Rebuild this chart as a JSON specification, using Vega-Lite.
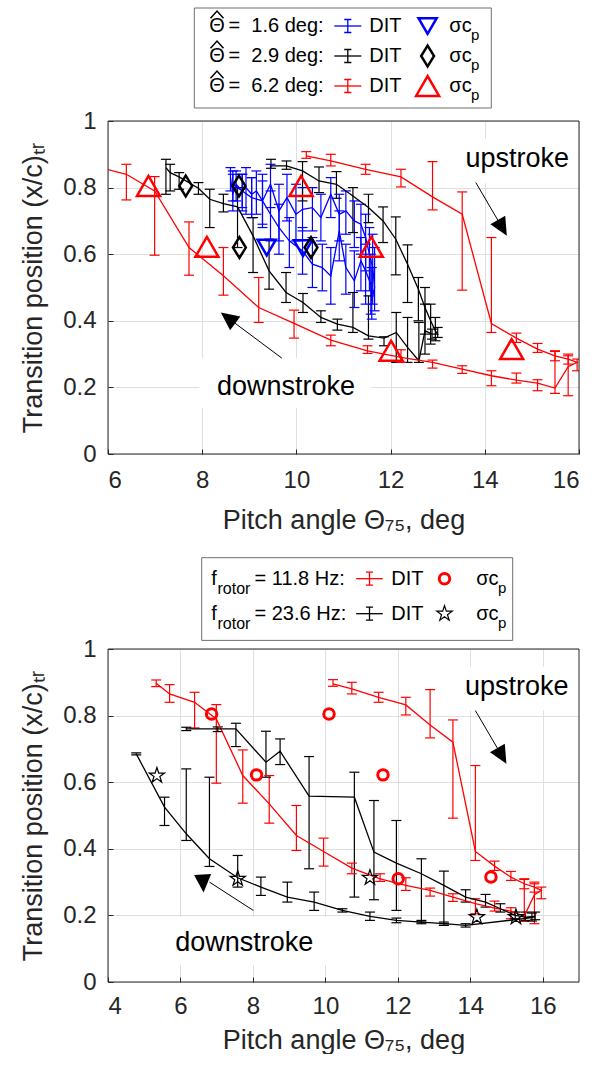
{
 "$schema": "https://vega.github.io/schema/vega-lite/v6.json",
 "padding": {"left": 19, "top": 7, "right": 5, "bottom": 0},
 "bounds": "flush",
 "spacing": 0,
 "resolve": {"scale": {"shape": "independent", "size": "independent", "strokeWidth": "independent"}},
 "config": {
  "font": "Liberation Sans",
  "view": {"stroke": "transparent"},
  "axis": {"grid": true, "gridColor": "#dfdfdf", "gridWidth": 1, "domain": false, "ticks": true, "tickColor": "#262626", "tickSize": -5, "labelFont": "Liberation Sans", "labelFontSize": 24, "labelColor": "#262626", "titleFont": "Liberation Sans", "titleFontSize": 27, "titleFontWeight": "normal", "titleColor": "#262626"},
  "axisX": {"labelPadding": 19, "titlePadding": 15},
  "axisY": {"labelPadding": 17, "titlePadding": 15}
 },
 "datasets": {
  "dit": [
   {"s":"b","o":1,"x":8.60,"y":0.83,"lo":0.79,"hi":0.86},
   {"s":"b","o":2,"x":8.65,"y":0.78,"lo":0.73,"hi":0.84},
   {"s":"b","o":3,"x":8.72,"y":0.81,"lo":0.76,"hi":0.85},
   {"s":"b","o":4,"x":8.85,"y":0.79,"lo":0.74,"hi":0.84},
   {"s":"b","o":5,"x":8.93,"y":0.80,"lo":0.72,"hi":0.86},
   {"s":"b","o":6,"x":9.05,"y":0.78,"lo":0.71,"hi":0.83},
   {"s":"b","o":7,"x":9.15,"y":0.79,"lo":0.72,"hi":0.85},
   {"s":"b","o":8,"x":9.28,"y":0.76,"lo":0.68,"hi":0.84},
   {"s":"b","o":9,"x":9.45,"y":0.81,"lo":0.74,"hi":0.87},
   {"s":"b","o":10,"x":9.63,"y":0.73,"lo":0.64,"hi":0.81},
   {"s":"b","o":11,"x":9.80,"y":0.77,"lo":0.70,"hi":0.84},
   {"s":"b","o":12,"x":9.99,"y":0.72,"lo":0.64,"hi":0.81},
   {"s":"b","o":13,"x":10.13,"y":0.735,"lo":0.67,"hi":0.80},
   {"s":"b","o":14,"x":10.34,"y":0.74,"lo":0.67,"hi":0.80},
   {"s":"b","o":15,"x":10.52,"y":0.71,"lo":0.64,"hi":0.78},
   {"s":"b","o":16,"x":10.73,"y":0.78,"lo":0.71,"hi":0.83},
   {"s":"b","o":17,"x":10.91,"y":0.72,"lo":0.64,"hi":0.78},
   {"s":"b","o":18,"x":11.05,"y":0.73,"lo":0.66,"hi":0.79},
   {"s":"b","o":19,"x":11.23,"y":0.70,"lo":0.62,"hi":0.76},
   {"s":"b","o":20,"x":11.37,"y":0.69,"lo":0.60,"hi":0.75},
   {"s":"b","o":21,"x":11.47,"y":0.65,"lo":0.55,"hi":0.72},
   {"s":"b","o":22,"x":11.55,"y":0.60,"lo":0.49,"hi":0.68},
   {"s":"b","o":23,"x":11.62,"y":0.56,"lo":0.45,"hi":0.66},
   {"s":"b","o":24,"x":11.66,"y":0.50,"lo":0.43,"hi":0.62},
   {"s":"b","o":25,"x":11.60,"y":0.46,"lo":0.405,"hi":0.56},
   {"s":"b","o":26,"x":11.58,"y":0.51,"lo":0.42,"hi":0.60},
   {"s":"b","o":27,"x":11.47,"y":0.55,"lo":0.45,"hi":0.63},
   {"s":"b","o":28,"x":11.37,"y":0.58,"lo":0.49,"hi":0.65},
   {"s":"b","o":29,"x":11.23,"y":0.52,"lo":0.44,"hi":0.61},
   {"s":"b","o":30,"x":11.05,"y":0.56,"lo":0.48,"hi":0.63},
   {"s":"b","o":31,"x":10.91,"y":0.67,"lo":0.58,"hi":0.73},
   {"s":"b","o":32,"x":10.73,"y":0.535,"lo":0.45,"hi":0.62},
   {"s":"b","o":33,"x":10.55,"y":0.56,"lo":0.49,"hi":0.63},
   {"s":"b","o":34,"x":10.34,"y":0.57,"lo":0.50,"hi":0.65},
   {"s":"b","o":35,"x":10.13,"y":0.61,"lo":0.54,"hi":0.68},
   {"s":"b","o":36,"x":9.85,"y":0.64,"lo":0.56,"hi":0.71},
   {"s":"b","o":37,"x":9.63,"y":0.68,"lo":0.60,"hi":0.75},
   {"s":"b","o":38,"x":9.45,"y":0.72,"lo":0.64,"hi":0.79},
   {"s":"b","o":39,"x":9.28,"y":0.76,"lo":0.69,"hi":0.82},
   {"s":"b","o":40,"x":9.05,"y":0.77,"lo":0.71,"hi":0.83},
   {"s":"b","o":41,"x":8.85,"y":0.79,"lo":0.73,"hi":0.84},
   {"s":"b","o":42,"x":8.65,"y":0.81,"lo":0.76,"hi":0.85},
   {"s":"k1","o":1,"x":9.46,"y":0.865,"lo":0.858,"hi":0.885},
   {"s":"k1","o":2,"x":9.79,"y":0.865,"lo":0.855,"hi":0.88},
   {"s":"k1","o":3,"x":10.13,"y":0.85,"lo":0.76,"hi":0.878},
   {"s":"k1","o":4,"x":10.48,"y":0.82,"lo":0.785,"hi":0.862},
   {"s":"k1","o":5,"x":10.85,"y":0.81,"lo":0.768,"hi":0.848},
   {"s":"k1","o":6,"x":11.2,"y":0.775,"lo":0.665,"hi":0.80},
   {"s":"k1","o":7,"x":11.53,"y":0.74,"lo":0.695,"hi":0.78},
   {"s":"k1","o":8,"x":11.84,"y":0.70,"lo":0.635,"hi":0.742},
   {"s":"k1","o":9,"x":12.11,"y":0.645,"lo":0.538,"hi":0.712},
   {"s":"k1","o":10,"x":12.36,"y":0.57,"lo":0.455,"hi":0.628},
   {"s":"k1","o":11,"x":12.59,"y":0.495,"lo":0.40,"hi":0.53},
   {"s":"k1","o":12,"x":12.73,"y":0.44,"lo":0.36,"hi":0.50},
   {"s":"k1","o":13,"x":12.85,"y":0.40,"lo":0.33,"hi":0.45},
   {"s":"k1","o":14,"x":12.95,"y":0.37,"lo":0.34,"hi":0.41},
   {"s":"k1","o":15,"x":13.0,"y":0.36,"lo":0.35,"hi":0.38},
   {"s":"k1","o":16,"x":12.88,"y":0.36,"lo":0.345,"hi":0.375},
   {"s":"k1","o":17,"x":12.73,"y":0.37,"lo":0.30,"hi":0.45},
   {"s":"k1","o":18,"x":12.6,"y":0.28,"lo":0.275,"hi":0.395},
   {"s":"k1","o":19,"x":12.36,"y":0.32,"lo":0.275,"hi":0.41},
   {"s":"k1","o":20,"x":12.12,"y":0.365,"lo":0.275,"hi":0.425},
   {"s":"k1","o":21,"x":11.86,"y":0.348,"lo":0.325,"hi":0.352},
   {"s":"k1","o":22,"x":11.53,"y":0.355,"lo":0.345,"hi":0.475},
   {"s":"k1","o":23,"x":11.2,"y":0.38,"lo":0.365,"hi":0.485},
   {"s":"k1","o":24,"x":10.87,"y":0.39,"lo":0.372,"hi":0.405},
   {"s":"k1","o":25,"x":10.52,"y":0.41,"lo":0.395,"hi":0.43},
   {"s":"k1","o":26,"x":10.14,"y":0.455,"lo":0.425,"hi":0.482},
   {"s":"k1","o":27,"x":9.78,"y":0.485,"lo":0.455,"hi":0.545},
   {"s":"k1","o":28,"x":9.42,"y":0.55,"lo":0.495,"hi":0.645},
   {"s":"k1","o":29,"x":9.08,"y":0.655,"lo":0.545,"hi":0.71},
   {"s":"k1","o":30,"x":8.75,"y":0.742,"lo":0.62,"hi":0.80},
   {"s":"k1","o":31,"x":8.45,"y":0.752,"lo":0.727,"hi":0.78},
   {"s":"k1","o":32,"x":8.16,"y":0.765,"lo":0.68,"hi":0.795},
   {"s":"k1","o":33,"x":7.92,"y":0.798,"lo":0.78,"hi":0.815},
   {"s":"k1","o":34,"x":7.51,"y":0.832,"lo":0.795,"hi":0.845},
   {"s":"k1","o":35,"x":7.32,"y":0.845,"lo":0.79,"hi":0.87},
   {"s":"k1","o":36,"x":7.23,"y":0.86,"lo":0.78,"hi":0.885},
   {"s":"r","o":1,"x":10.21,"y":0.895,"lo":0.888,"hi":0.908},
   {"s":"r","o":2,"x":10.73,"y":0.88,"lo":0.865,"hi":0.90},
   {"s":"r","o":3,"x":11.47,"y":0.855,"lo":0.84,"hi":0.87},
   {"s":"r","o":4,"x":12.22,"y":0.832,"lo":0.802,"hi":0.855},
   {"s":"r","o":5,"x":12.89,"y":0.772,"lo":0.733,"hi":0.878},
   {"s":"r","o":6,"x":13.52,"y":0.72,"lo":0.492,"hi":0.787},
   {"s":"r","o":7,"x":14.14,"y":0.392,"lo":0.365,"hi":0.65},
   {"s":"r","o":8,"x":14.67,"y":0.348,"lo":0.335,"hi":0.363},
   {"s":"r","o":9,"x":15.12,"y":0.315,"lo":0.305,"hi":0.332},
   {"s":"r","o":10,"x":15.49,"y":0.295,"lo":0.28,"hi":0.31},
   {"s":"r","o":11,"x":15.77,"y":0.285,"lo":0.27,"hi":0.30},
   {"s":"r","o":12,"x":15.96,"y":0.275,"lo":0.25,"hi":0.285},
   {"s":"r","o":13,"x":15.77,"y":0.262,"lo":0.175,"hi":0.295},
   {"s":"r","o":14,"x":15.49,"y":0.198,"lo":0.182,"hi":0.308},
   {"s":"r","o":15,"x":15.12,"y":0.213,"lo":0.19,"hi":0.223},
   {"s":"r","o":16,"x":14.67,"y":0.222,"lo":0.213,"hi":0.243},
   {"s":"r","o":17,"x":14.14,"y":0.235,"lo":0.205,"hi":0.25},
   {"s":"r","o":18,"x":13.52,"y":0.255,"lo":0.242,"hi":0.265},
   {"s":"r","o":19,"x":12.89,"y":0.275,"lo":0.258,"hi":0.282},
   {"s":"r","o":20,"x":12.22,"y":0.29,"lo":0.275,"hi":0.313},
   {"s":"r","o":21,"x":11.51,"y":0.31,"lo":0.302,"hi":0.325},
   {"s":"r","o":22,"x":10.73,"y":0.342,"lo":0.325,"hi":0.357},
   {"s":"r","o":23,"x":9.95,"y":0.392,"lo":0.348,"hi":0.432},
   {"s":"r","o":24,"x":9.2,"y":0.44,"lo":0.395,"hi":0.53},
   {"s":"r","o":25,"x":8.45,"y":0.535,"lo":0.477,"hi":0.62},
   {"s":"r","o":26,"x":7.72,"y":0.62,"lo":0.537,"hi":0.697},
   {"s":"r","o":27,"x":6.99,"y":0.79,"lo":0.597,"hi":0.833},
   {"s":"r","o":28,"x":6.39,"y":0.84,"lo":0.763,"hi":0.87},
   {"s":"r","o":29,"x":5.70,"y":0.865,"lo":0.84,"hi":0.893},
   {"s":"r","o":30,"x":5.33,"y":0.897,"lo":0.887,"hi":0.907},
   {"s":"k2","o":1,"x":6.16,"y":0.76,"lo":0.755,"hi":0.765},
   {"s":"k2","o":2,"x":7.03,"y":0.76,"lo":0.752,"hi":0.766},
   {"s":"k2","o":3,"x":7.53,"y":0.76,"lo":0.707,"hi":0.777},
   {"s":"k2","o":4,"x":8.36,"y":0.66,"lo":0.615,"hi":0.753},
   {"s":"k2","o":5,"x":8.75,"y":0.693,"lo":0.653,"hi":0.73},
   {"s":"k2","o":6,"x":9.55,"y":0.558,"lo":0.34,"hi":0.677},
   {"s":"k2","o":7,"x":10.8,"y":0.555,"lo":0.255,"hi":0.63},
   {"s":"k2","o":8,"x":11.34,"y":0.39,"lo":0.247,"hi":0.545},
   {"s":"k2","o":9,"x":11.96,"y":0.357,"lo":0.215,"hi":0.485},
   {"s":"k2","o":10,"x":12.65,"y":0.325,"lo":0.18,"hi":0.37},
   {"s":"k2","o":11,"x":13.27,"y":0.29,"lo":0.175,"hi":0.333},
   {"s":"k2","o":12,"x":13.87,"y":0.255,"lo":0.24,"hi":0.277},
   {"s":"k2","o":13,"x":14.42,"y":0.24,"lo":0.225,"hi":0.263},
   {"s":"k2","o":14,"x":14.83,"y":0.22,"lo":0.21,"hi":0.235},
   {"s":"k2","o":15,"x":15.24,"y":0.2,"lo":0.19,"hi":0.21},
   {"s":"k2","o":16,"x":15.52,"y":0.195,"lo":0.185,"hi":0.21},
   {"s":"k2","o":17,"x":15.79,"y":0.197,"lo":0.187,"hi":0.21},
   {"s":"k2","o":18,"x":15.7,"y":0.193,"lo":0.183,"hi":0.207},
   {"s":"k2","o":19,"x":13.87,"y":0.17,"lo":0.165,"hi":0.175},
   {"s":"k2","o":20,"x":13.27,"y":0.175,"lo":0.17,"hi":0.18},
   {"s":"k2","o":21,"x":12.65,"y":0.18,"lo":0.175,"hi":0.185},
   {"s":"k2","o":22,"x":11.96,"y":0.185,"lo":0.178,"hi":0.192},
   {"s":"k2","o":23,"x":11.23,"y":0.197,"lo":0.185,"hi":0.21},
   {"s":"k2","o":24,"x":10.47,"y":0.215,"lo":0.21,"hi":0.22},
   {"s":"k2","o":25,"x":9.69,"y":0.24,"lo":0.215,"hi":0.27},
   {"s":"k2","o":26,"x":8.95,"y":0.255,"lo":0.24,"hi":0.3},
   {"s":"k2","o":27,"x":8.22,"y":0.285,"lo":0.26,"hi":0.315},
   {"s":"k2","o":28,"x":7.58,"y":0.313,"lo":0.285,"hi":0.38},
   {"s":"k2","o":29,"x":6.8,"y":0.37,"lo":0.347,"hi":0.615},
   {"s":"k2","o":30,"x":6.16,"y":0.445,"lo":0.425,"hi":0.64},
   {"s":"k2","o":31,"x":5.56,"y":0.525,"lo":0.47,"hi":0.555},
   {"s":"k2","o":32,"x":4.78,"y":0.685,"lo":0.682,"hi":0.688}
  ],
  "sig": [
   {"s":"b","x":9.37,"y":0.62},{"s":"b","x":10.14,"y":0.618},
   {"s":"k1","x":7.65,"y":0.805},{"s":"k1","x":8.78,"y":0.805},{"s":"k1","x":8.79,"y":0.62},{"s":"k1","x":10.31,"y":0.62},
   {"s":"r","x":6.86,"y":0.805},{"s":"r","x":8.1,"y":0.622},{"s":"r","x":10.1,"y":0.805},{"s":"r","x":11.59,"y":0.622},{"s":"r","x":12.01,"y":0.31},{"s":"r","x":14.57,"y":0.315},
   {"s":"k2","x":5.35,"y":0.62},{"s":"k2","x":7.58,"y":0.31},{"s":"k2","x":11.23,"y":0.313},{"s":"k2","x":14.18,"y":0.195},{"s":"k2","x":15.26,"y":0.195}
  ],
  "notes": [
   {"p":1,"t":"upstroke","x":14.69,"y":0.886},{"p":1,"t":"downstroke","x":9.78,"y":0.202},
   {"p":2,"t":"upstroke","x":15.28,"y":0.887},{"p":2,"t":"downstroke","x":7.76,"y":0.116}
  ],
  "boxes": [
   {"p":1,"x1":13.5,"x2":15.96,"y1":0.814,"y2":0.946},{"p":1,"x1":7.94,"x2":11.59,"y1":0.139,"y2":0.288},
   {"p":2,"x1":13.74,"x2":16.92,"y1":0.815,"y2":0.947},{"p":2,"x1":5.6,"x2":10.1,"y1":0.05,"y2":0.195}
  ],
  "frames": [
   {"p":1,"x1":6,"x2":16,"y1":0,"y2":1},{"p":2,"x1":4,"x2":17,"y1":0,"y2":1}
  ],
  "legframes": [
   {"p":1,"r1":-0.6,"r2":2.733},{"p":2,"r1":-0.6,"r2":1.763}
  ],
  "arrows": [
   {"p":1,"x1":13.81,"y1":0.815,"x2":14.34,"y2":0.687},{"p":1,"x1":9.69,"y1":0.288,"x2":8.6,"y2":0.403},
   {"p":2,"x1":14.14,"y1":0.815,"x2":14.83,"y2":0.687},{"p":2,"x1":8.01,"y1":0.215,"x2":6.8,"y2":0.30}
  ],
  "heads": [
   {"p":1,"x":14.34,"y":0.687,"dir":150},{"p":1,"x":8.6,"y":0.403,"dir":307},
   {"p":2,"x":14.83,"y":0.687,"dir":150},{"p":2,"x":6.62,"y":0.305,"dir":177}
  ],
  "leg1": [
   {"row":0,"s":"b","label":"= \u00a01.6 deg:"},
   {"row":1,"s":"k1","label":"= \u00a02.9 deg:"},
   {"row":2,"s":"r","label":"= \u00a06.2 deg:"}
  ],
  "leg2": [
   {"row":0,"s":"r","label":"= 11.8 Hz:"},
   {"row":1,"s":"k2","label":"= 23.6 Hz:"}
  ]
 },
 "vconcat": [
  {
   "width": 471, "height": 113,
   "layer": [
    {"data": {"name": "legframes"}, "transform": [{"filter": "datum.p == 1"}],
     "mark": {"type": "rect", "fill": "white", "stroke": "#6f6f6f", "strokeWidth": 1},
     "encoding": {"x": {"datum": 86.3, "type": "quantitative", "scale": {"domain": [0, 471], "nice": false, "zero": false}, "axis": null}, "x2": {"datum": 383.3},
      "y": {"field": "r1", "type": "quantitative", "scale": {"domain": [-0.6, 3.1667], "reverse": true, "nice": false, "zero": false}, "axis": null}, "y2": {"field": "r2"}}},
    {"data": {"name": "leg1"},
     "mark": {"type": "text", "align": "left", "baseline": "middle", "fontSize": 20, "color": "#000000"},
     "encoding": {"x": {"datum": 101.3, "type": "quantitative"}, "y": {"field": "row", "type": "quantitative"}, "text": {"value": "Θ"}}},
    {"data": {"name": "leg1"},
     "mark": {"type": "point", "shape": "M-1,-1.2L0,-2.3L1,-1.2", "size": 169, "filled": false, "strokeWidth": 1.5, "color": "#000000", "opacity": 1},
     "encoding": {"x": {"datum": 109, "type": "quantitative"}, "y": {"field": "row", "type": "quantitative"}}},
    {"data": {"name": "leg1"},
     "mark": {"type": "text", "align": "left", "baseline": "middle", "fontSize": 20, "color": "#000000"},
     "encoding": {"x": {"datum": 120.5, "type": "quantitative"}, "y": {"field": "row", "type": "quantitative"}, "text": {"field": "label"}}},
    {"data": {"name": "leg1"},
     "mark": {"type": "rule", "strokeWidth": 1.3},
     "encoding": {"x": {"datum": 226.3, "type": "quantitative"}, "x2": {"datum": 253.3}, "y": {"field": "row", "type": "quantitative"}, "color": {"field": "s", "type": "nominal", "scale": {"domain": ["b","k1","k2","r"], "range": ["#0000ff","#000000","#000000","#ff0000"]}, "legend": null}}},
    {"data": {"name": "leg1"},
     "mark": {"type": "point", "shape": "M-0.55,-1L0.55,-1M0,-1L0,1M-0.55,1L0.55,1", "size": 169, "filled": false, "strokeWidth": 1.3, "opacity": 1},
     "encoding": {"x": {"datum": 239.8, "type": "quantitative"}, "y": {"field": "row", "type": "quantitative"}, "color": {"field": "s", "type": "nominal", "scale": {"domain": ["b","k1","k2","r"], "range": ["#0000ff","#000000","#000000","#ff0000"]}, "legend": null}}},
    {"data": {"name": "leg1"},
     "mark": {"type": "text", "align": "left", "baseline": "middle", "fontSize": 20, "color": "#000000"},
     "encoding": {"x": {"datum": 261.3, "type": "quantitative"}, "y": {"field": "row", "type": "quantitative"}, "text": {"value": "DIT"}}},
    {"data": {"name": "leg1"},
     "mark": {"type": "point", "filled": false, "opacity": 1, "strokeWidth": 2.5},
     "encoding": {"x": {"datum": 319.6, "type": "quantitative"}, "y": {"field": "row", "type": "quantitative"},
      "color": {"field": "s", "type": "nominal", "scale": {"domain": ["b","k1","k2","r"], "range": ["#0000ff","#000000","#000000","#ff0000"]}, "legend": null},
      "shape": {"field": "s", "type": "nominal", "scale": {"domain": ["b","k1","r"], "range": ["triangle-down", "M0,-1L0.62,0L0,1L-0.62,0Z", "triangle-up"]}, "legend": null},
      "size": {"field": "s", "type": "ordinal", "scale": {"domain": ["b","k1","r"], "range": [330, 530, 330]}, "legend": null}}},
    {"data": {"name": "leg1"},
     "mark": {"type": "text", "align": "left", "baseline": "middle", "fontSize": 20, "color": "#000000"},
     "encoding": {"x": {"datum": 341.3, "type": "quantitative"}, "y": {"field": "row", "type": "quantitative"}, "text": {"value": "σc"}}},
    {"data": {"name": "leg1"},
     "mark": {"type": "text", "align": "left", "baseline": "middle", "fontSize": 15, "dy": 9, "color": "#000000"},
     "encoding": {"x": {"datum": 363, "type": "quantitative"}, "y": {"field": "row", "type": "quantitative"}, "text": {"value": "p"}}}
   ]
  },
  {
   "width": 471, "height": 333,
   "layer": [
    {"data": {"name": "boxes"}, "transform": [{"filter": "datum.p == 1"}],
     "mark": {"type": "rect", "fill": "white"},
     "encoding": {
      "x": {"field": "x1", "type": "quantitative", "scale": {"domain": [6, 16], "nice": false, "zero": false}, "axis": {"values": [6, 8, 10, 12, 14, 16], "title": "Pitch angle Θ₇₅, deg"}},
      "x2": {"field": "x2"},
      "y": {"field": "y1", "type": "quantitative", "scale": {"domain": [0, 1], "nice": false, "zero": false}, "axis": {"values": [0, 0.2, 0.4, 0.6, 0.8, 1], "format": "~g", "title": "Transition position (x/c)ₜᵣ"}},
      "y2": {"field": "y2"}}},
    {"data": {"name": "dit"}, "transform": [{"filter": {"field": "s", "oneOf": ["b", "k1", "r"]}}],
     "mark": {"type": "rule", "strokeWidth": 1.2, "clip": true},
     "encoding": {"x": {"field": "x", "type": "quantitative"}, "y": {"field": "lo", "type": "quantitative"}, "y2": {"field": "hi"},
      "color": {"field": "s", "type": "nominal", "scale": {"domain": ["b","k1","k2","r"], "range": ["#0000ff","#000000","#000000","#ff0000"]}, "legend": null}}},
    {"data": {"name": "dit"}, "transform": [{"filter": {"field": "s", "oneOf": ["b", "k1", "r"]}}],
     "mark": {"type": "tick", "orient": "horizontal", "size": 10, "thickness": 1.2, "opacity": 1, "clip": true},
     "encoding": {"x": {"field": "x", "type": "quantitative"}, "y": {"field": "lo", "type": "quantitative"},
      "color": {"field": "s", "type": "nominal", "scale": {"domain": ["b","k1","k2","r"], "range": ["#0000ff","#000000","#000000","#ff0000"]}, "legend": null}}},
    {"data": {"name": "dit"}, "transform": [{"filter": {"field": "s", "oneOf": ["b", "k1", "r"]}}],
     "mark": {"type": "tick", "orient": "horizontal", "size": 10, "thickness": 1.2, "opacity": 1, "clip": true},
     "encoding": {"x": {"field": "x", "type": "quantitative"}, "y": {"field": "hi", "type": "quantitative"},
      "color": {"field": "s", "type": "nominal", "scale": {"domain": ["b","k1","k2","r"], "range": ["#0000ff","#000000","#000000","#ff0000"]}, "legend": null}}},
    {"data": {"name": "dit"}, "transform": [{"filter": {"field": "s", "oneOf": ["b", "k1", "r"]}}],
     "mark": {"type": "line", "strokeWidth": 1.3, "clip": true},
     "encoding": {"x": {"field": "x", "type": "quantitative"}, "y": {"field": "y", "type": "quantitative"}, "order": {"field": "o", "type": "quantitative"},
      "color": {"field": "s", "type": "nominal", "scale": {"domain": ["b","k1","k2","r"], "range": ["#0000ff","#000000","#000000","#ff0000"]}, "legend": null}}},
    {"data": {"name": "sig"}, "transform": [{"filter": {"field": "s", "oneOf": ["b", "k1", "r"]}}],
     "mark": {"type": "point", "filled": false, "opacity": 1, "strokeWidth": 2.5, "clip": true},
     "encoding": {"x": {"field": "x", "type": "quantitative"}, "y": {"field": "y", "type": "quantitative"},
      "color": {"field": "s", "type": "nominal", "scale": {"domain": ["b","k1","k2","r"], "range": ["#0000ff","#000000","#000000","#ff0000"]}, "legend": null},
      "shape": {"field": "s", "type": "nominal", "scale": {"domain": ["b","k1","r"], "range": ["triangle-down", "M0,-1L0.62,0L0,1L-0.62,0Z", "triangle-up"]}, "legend": null},
      "size": {"field": "s", "type": "ordinal", "scale": {"domain": ["b","k1","r"], "range": [330, 530, 330]}, "legend": null}}},
    {"data": {"name": "arrows"}, "transform": [{"filter": "datum.p == 1"}],
     "mark": {"type": "rule", "color": "#000000", "strokeWidth": 1},
     "encoding": {"x": {"field": "x1", "type": "quantitative"}, "y": {"field": "y1", "type": "quantitative"}, "x2": {"field": "x2"}, "y2": {"field": "y2"}}},
    {"data": {"name": "heads"}, "transform": [{"filter": "datum.p == 1"}],
     "mark": {"type": "point", "shape": "M0,-1.27L0.9,0.63L-0.9,0.63Z", "size": 361, "filled": true, "color": "#000000", "opacity": 1},
     "encoding": {"x": {"field": "x", "type": "quantitative"}, "y": {"field": "y", "type": "quantitative"}, "angle": {"field": "dir", "type": "quantitative", "scale": null}}},
    {"data": {"name": "notes"}, "transform": [{"filter": "datum.p == 1"}],
     "mark": {"type": "text", "fontSize": 27, "align": "center", "baseline": "middle", "color": "#000000"},
     "encoding": {"x": {"field": "x", "type": "quantitative"}, "y": {"field": "y", "type": "quantitative"}, "text": {"field": "t"}}},
    {"data": {"name": "frames"}, "transform": [{"filter": "datum.p == 1"}],
     "mark": {"type": "rect", "filled": false, "stroke": "#262626", "strokeWidth": 1},
     "encoding": {"x": {"field": "x1", "type": "quantitative"}, "x2": {"field": "x2"}, "y": {"field": "y1", "type": "quantitative"}, "y2": {"field": "y2"}}}
   ]
  },
  {
   "width": 471, "height": 195,
   "layer": [
    {"data": {"name": "legframes"}, "transform": [{"filter": "datum.p == 2"}],
     "mark": {"type": "rect", "fill": "white", "stroke": "#6f6f6f", "strokeWidth": 1},
     "encoding": {"x": {"datum": 93.7, "type": "quantitative", "scale": {"domain": [0, 471], "nice": false, "zero": false}, "axis": null}, "x2": {"datum": 404.7},
      "y": {"field": "r1", "type": "quantitative", "scale": {"domain": [-3.563, 2.009], "reverse": true, "nice": false, "zero": false}, "axis": null}, "y2": {"field": "r2"}}},
    {"data": {"name": "leg2"},
     "mark": {"type": "text", "align": "left", "baseline": "middle", "fontSize": 20, "color": "#000000"},
     "encoding": {"x": {"datum": 103.2, "type": "quantitative"}, "y": {"field": "row", "type": "quantitative"}, "text": {"value": "f"}}},
    {"data": {"name": "leg2"},
     "mark": {"type": "text", "align": "left", "baseline": "middle", "fontSize": 16, "dy": 10, "color": "#000000"},
     "encoding": {"x": {"datum": 109.5, "type": "quantitative"}, "y": {"field": "row", "type": "quantitative"}, "text": {"value": "rotor"}}},
    {"data": {"name": "leg2"},
     "mark": {"type": "text", "align": "left", "baseline": "middle", "fontSize": 20, "color": "#000000"},
     "encoding": {"x": {"datum": 146.5, "type": "quantitative"}, "y": {"field": "row", "type": "quantitative"}, "text": {"field": "label"}}},
    {"data": {"name": "leg2"},
     "mark": {"type": "rule", "strokeWidth": 1.3},
     "encoding": {"x": {"datum": 248.2, "type": "quantitative"}, "x2": {"datum": 274.8}, "y": {"field": "row", "type": "quantitative"}, "color": {"field": "s", "type": "nominal", "scale": {"domain": ["b","k1","k2","r"], "range": ["#0000ff","#000000","#000000","#ff0000"]}, "legend": null}}},
    {"data": {"name": "leg2"},
     "mark": {"type": "point", "shape": "M-0.55,-1L0.55,-1M0,-1L0,1M-0.55,1L0.55,1", "size": 169, "filled": false, "strokeWidth": 1.3, "opacity": 1},
     "encoding": {"x": {"datum": 261.5, "type": "quantitative"}, "y": {"field": "row", "type": "quantitative"}, "color": {"field": "s", "type": "nominal", "scale": {"domain": ["b","k1","k2","r"], "range": ["#0000ff","#000000","#000000","#ff0000"]}, "legend": null}}},
    {"data": {"name": "leg2"},
     "mark": {"type": "text", "align": "left", "baseline": "middle", "fontSize": 20, "color": "#000000"},
     "encoding": {"x": {"datum": 283.2, "type": "quantitative"}, "y": {"field": "row", "type": "quantitative"}, "text": {"value": "DIT"}}},
    {"data": {"name": "leg2"},
     "mark": {"type": "point", "filled": false, "opacity": 1},
     "encoding": {"x": {"datum": 336.5, "type": "quantitative"}, "y": {"field": "row", "type": "quantitative"},
      "color": {"field": "s", "type": "nominal", "scale": {"domain": ["b","k1","k2","r"], "range": ["#0000ff","#000000","#000000","#ff0000"]}, "legend": null},
      "shape": {"field": "s", "type": "nominal", "scale": {"domain": ["r","k2"], "range": ["circle", "M0,-1L0.2245,-0.309L0.9511,-0.309L0.3633,0.118L0.5878,0.809L0,0.382L-0.5878,0.809L-0.3633,0.118L-0.9511,-0.309L-0.2245,-0.309Z"]}, "legend": null},
      "size": {"field": "s", "type": "ordinal", "scale": {"domain": ["r","k2"], "range": [110, 260]}, "legend": null},
      "strokeWidth": {"field": "s", "type": "ordinal", "scale": {"domain": ["r","k2"], "range": [3, 1.2]}, "legend": null}}},
    {"data": {"name": "leg2"},
     "mark": {"type": "text", "align": "left", "baseline": "middle", "fontSize": 20, "color": "#000000"},
     "encoding": {"x": {"datum": 368.2, "type": "quantitative"}, "y": {"field": "row", "type": "quantitative"}, "text": {"value": "σc"}}},
    {"data": {"name": "leg2"},
     "mark": {"type": "text", "align": "left", "baseline": "middle", "fontSize": 15, "dy": 9, "color": "#000000"},
     "encoding": {"x": {"datum": 390, "type": "quantitative"}, "y": {"field": "row", "type": "quantitative"}, "text": {"value": "p"}}}
   ]
  },
  {
   "width": 471, "height": 333,
   "layer": [
    {"data": {"name": "boxes"}, "transform": [{"filter": "datum.p == 2"}],
     "mark": {"type": "rect", "fill": "white"},
     "encoding": {
      "x": {"field": "x1", "type": "quantitative", "scale": {"domain": [4, 17], "nice": false, "zero": false}, "axis": {"values": [4, 6, 8, 10, 12, 14, 16], "title": "Pitch angle Θ₇₅, deg", "labelPadding": 17, "titlePadding": 9}},
      "x2": {"field": "x2"},
      "y": {"field": "y1", "type": "quantitative", "scale": {"domain": [0, 1], "nice": false, "zero": false}, "axis": {"values": [0, 0.2, 0.4, 0.6, 0.8, 1], "format": "~g", "title": "Transition position (x/c)ₜᵣ"}},
      "y2": {"field": "y2"}}},
    {"data": {"name": "dit"}, "transform": [{"filter": {"field": "s", "oneOf": ["r", "k2"]}}],
     "mark": {"type": "rule", "strokeWidth": 1.2, "clip": true},
     "encoding": {"x": {"field": "x", "type": "quantitative"}, "y": {"field": "lo", "type": "quantitative"}, "y2": {"field": "hi"},
      "color": {"field": "s", "type": "nominal", "scale": {"domain": ["b","k1","k2","r"], "range": ["#0000ff","#000000","#000000","#ff0000"]}, "legend": null}}},
    {"data": {"name": "dit"}, "transform": [{"filter": {"field": "s", "oneOf": ["r", "k2"]}}],
     "mark": {"type": "tick", "orient": "horizontal", "size": 10, "thickness": 1.2, "opacity": 1, "clip": true},
     "encoding": {"x": {"field": "x", "type": "quantitative"}, "y": {"field": "lo", "type": "quantitative"},
      "color": {"field": "s", "type": "nominal", "scale": {"domain": ["b","k1","k2","r"], "range": ["#0000ff","#000000","#000000","#ff0000"]}, "legend": null}}},
    {"data": {"name": "dit"}, "transform": [{"filter": {"field": "s", "oneOf": ["r", "k2"]}}],
     "mark": {"type": "tick", "orient": "horizontal", "size": 10, "thickness": 1.2, "opacity": 1, "clip": true},
     "encoding": {"x": {"field": "x", "type": "quantitative"}, "y": {"field": "hi", "type": "quantitative"},
      "color": {"field": "s", "type": "nominal", "scale": {"domain": ["b","k1","k2","r"], "range": ["#0000ff","#000000","#000000","#ff0000"]}, "legend": null}}},
    {"data": {"name": "dit"}, "transform": [{"filter": {"field": "s", "oneOf": ["r", "k2"]}}],
     "mark": {"type": "line", "strokeWidth": 1.3, "clip": true},
     "encoding": {"x": {"field": "x", "type": "quantitative"}, "y": {"field": "y", "type": "quantitative"}, "order": {"field": "o", "type": "quantitative"},
      "color": {"field": "s", "type": "nominal", "scale": {"domain": ["b","k1","k2","r"], "range": ["#0000ff","#000000","#000000","#ff0000"]}, "legend": null}}},
    {"data": {"name": "sig"}, "transform": [{"filter": {"field": "s", "oneOf": ["r", "k2"]}}],
     "mark": {"type": "point", "filled": false, "opacity": 1, "clip": true},
     "encoding": {"x": {"field": "x", "type": "quantitative"}, "y": {"field": "y", "type": "quantitative"},
      "color": {"field": "s", "type": "nominal", "scale": {"domain": ["b","k1","k2","r"], "range": ["#0000ff","#000000","#000000","#ff0000"]}, "legend": null},
      "shape": {"field": "s", "type": "nominal", "scale": {"domain": ["r","k2"], "range": ["circle", "M0,-1L0.2245,-0.309L0.9511,-0.309L0.3633,0.118L0.5878,0.809L0,0.382L-0.5878,0.809L-0.3633,0.118L-0.9511,-0.309L-0.2245,-0.309Z"]}, "legend": null},
      "size": {"field": "s", "type": "ordinal", "scale": {"domain": ["r","k2"], "range": [110, 260]}, "legend": null},
      "strokeWidth": {"field": "s", "type": "ordinal", "scale": {"domain": ["r","k2"], "range": [3, 1.2]}, "legend": null}}},
    {"data": {"name": "arrows"}, "transform": [{"filter": "datum.p == 2"}],
     "mark": {"type": "rule", "color": "#000000", "strokeWidth": 1},
     "encoding": {"x": {"field": "x1", "type": "quantitative"}, "y": {"field": "y1", "type": "quantitative"}, "x2": {"field": "x2"}, "y2": {"field": "y2"}}},
    {"data": {"name": "heads"}, "transform": [{"filter": "datum.p == 2"}],
     "mark": {"type": "point", "shape": "M0,-1.27L0.9,0.63L-0.9,0.63Z", "size": 361, "filled": true, "color": "#000000", "opacity": 1},
     "encoding": {"x": {"field": "x", "type": "quantitative"}, "y": {"field": "y", "type": "quantitative"}, "angle": {"field": "dir", "type": "quantitative", "scale": null}}},
    {"data": {"name": "notes"}, "transform": [{"filter": "datum.p == 2"}],
     "mark": {"type": "text", "fontSize": 27, "align": "center", "baseline": "middle", "color": "#000000"},
     "encoding": {"x": {"field": "x", "type": "quantitative"}, "y": {"field": "y", "type": "quantitative"}, "text": {"field": "t"}}},
    {"data": {"name": "frames"}, "transform": [{"filter": "datum.p == 2"}],
     "mark": {"type": "rect", "filled": false, "stroke": "#262626", "strokeWidth": 1},
     "encoding": {"x": {"field": "x1", "type": "quantitative"}, "x2": {"field": "x2"}, "y": {"field": "y1", "type": "quantitative"}, "y2": {"field": "y2"}}}
   ]
  }
 ]
}
